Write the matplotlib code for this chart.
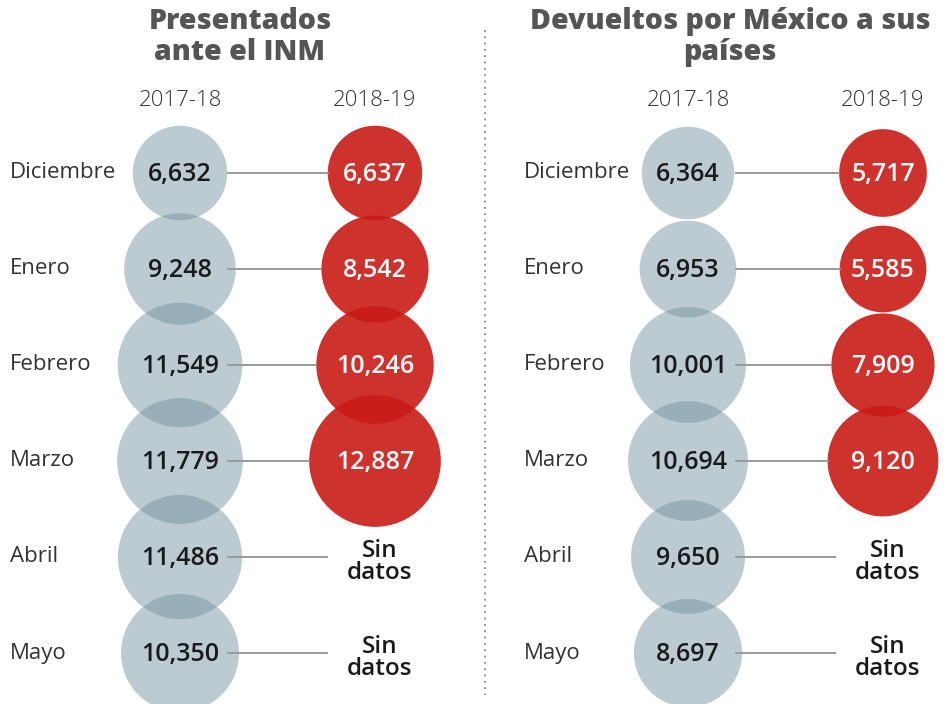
import numpy as np
import matplotlib.pyplot as plt
from matplotlib.patches import Circle

plt.rcParams['font.family'] = ['Open Sans', 'DejaVu Sans']

# datos
meses = ['Diciembre', 'Enero', 'Febrero', 'Marzo', 'Abril', 'Mayo']
temporadas = ['2017-18', '2018-19']
titulos = ['Presentados\nante el INM', 'Devueltos por México a sus\npaíses']
presentados_1718 = [6632, 9248, 11549, 11779, 11486, 10350]
presentados_1819 = [6637, 8542, 10246, 12887, None, None]
devueltos_1718 = [6364, 6953, 10001, 10694, 9650, 8697]
devueltos_1819 = [5717, 5585, 7909, 9120, None, None]

# estilo
GRIS = '#6e8f9e'
ROJO = '#c81b16'
LINEA = '#9a9a9a'
K = 0.58  # radio = K * sqrt(valor)

fig = plt.figure(figsize=(9.52, 7.04), dpi=100)
ax = fig.add_axes([0, 0, 1, 1])
ax.set_xlim(0, 952)
ax.set_ylim(704, 0)
ax.set_aspect('equal')
ax.axis('off')

filas_y = [173, 269, 365, 461, 557, 653]


def fmt(v):
    return f'{v:,}'


def panel(x0, xg, xr, titulo, tit_x, antes, ahora):
    ax.text(tit_x, 37, titulo, ha='center', va='center', fontsize=20.5,
            fontweight='heavy', color='#555555', linespacing=1.12)
    ax.text(xg, 101, temporadas[0], ha='center', va='center', fontsize=16,
            color='#333333', fontweight='light')
    ax.text(xr, 101, temporadas[1], ha='center', va='center', fontsize=16,
            color='#333333', fontweight='light')

    for i, mes in enumerate(meses):
        y = filas_y[i]
        ax.text(x0, y, mes, ha='left', va='center', fontsize=16, color='#333333')

        rg = K * np.sqrt(antes[i])
        ax.add_patch(Circle((xg, y), rg, facecolor=GRIS, alpha=0.46, lw=0, zorder=1))
        ax.text(xg, y + 2, fmt(antes[i]), ha='center', va='center', fontsize=18,
                fontweight='semibold', color='#1a1a1a', zorder=5)

        if ahora[i] is not None:
            rr = K * np.sqrt(ahora[i])
            ax.add_patch(Circle((xr, y), rr, facecolor=ROJO, alpha=0.9, lw=0, zorder=1))
            ax.text(xr, y + 2, fmt(ahora[i]), ha='center', va='center', fontsize=18,
                    fontweight='semibold', color='white', zorder=5)
            x_fin = xr - rr
        else:
            ax.text(xr + 5, y + 5, 'Sin\ndatos', ha='center', va='center', fontsize=17.5,
                    fontweight='semibold', color='#1a1a1a', linespacing=0.85)
            x_fin = xr - 48
        ax.plot([xg + 48, x_fin], [y, y], color=LINEA, lw=1.4, zorder=3)


panel(10, 180, 375, titulos[0], 240, presentados_1718, presentados_1819)
panel(524, 688, 883, titulos[1], 730, devueltos_1718, devueltos_1819)

# separador
ax.plot([485, 485], [30, 695], color='#888888', lw=1.3, linestyle=(0, (1, 2.5)))

fig.savefig('out.png', dpi=100, facecolor='white')
